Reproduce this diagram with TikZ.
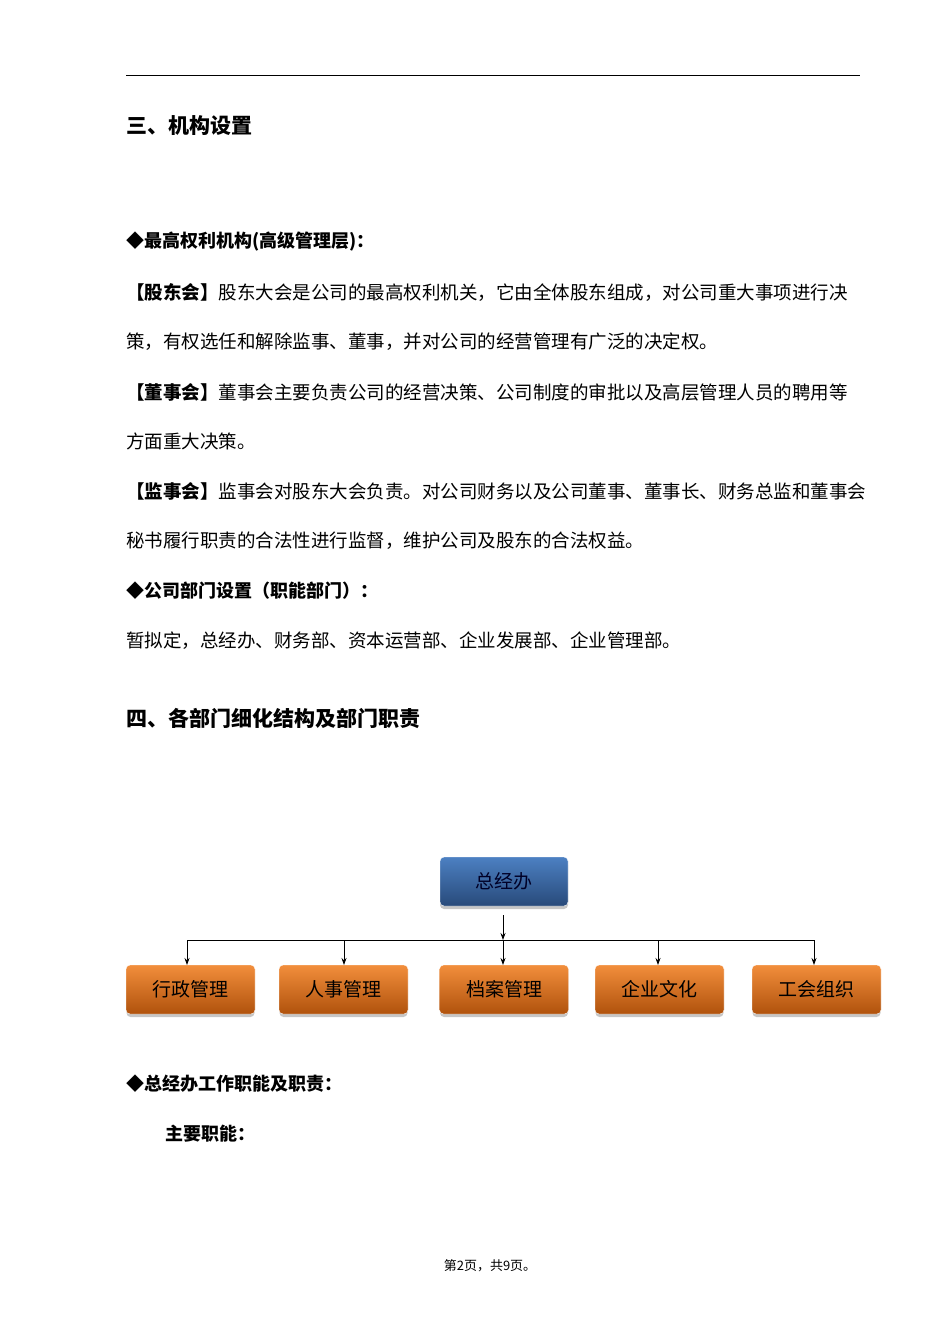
\documentclass[tikz,border=0pt]{standalone}
\usepackage{fontspec}
\usetikzlibrary{arrows.meta}
\setmainfont{Noto Sans CJK SC}
\begin{document}
\begin{tikzpicture}[x=1pt,y=-1pt,
  txt/.style={anchor=west,inner sep=0pt,font=\fontsize{18.5}{20}\selectfont},
  head/.style={anchor=west,inner sep=0pt,font=\fontsize{21}{23}\selectfont\bfseries},
  sub/.style={anchor=west,inner sep=0pt,font=\fontsize{18}{20}\selectfont\bfseries},
  blu/.style={rounded corners=4pt,minimum width=128pt,minimum height=49pt,draw=white,
    top color={rgb,255:red,76;green,128;blue,194},bottom color={rgb,255:red,40;green,74;blue,122},
    font=\fontsize{19}{21}\selectfont,text=black!85!blue},
  org/.style={rounded corners=4pt,minimum width=129pt,minimum height=49pt,draw=white,
    top color={rgb,255:red,242;green,142;blue,60},bottom color={rgb,255:red,176;green,82;blue,12},
    font=\fontsize{19}{21}\selectfont,text=black},
  shadow/.style={fill=gray!45,rounded corners=4pt},
  arr/.style={-{Stealth[length=7pt,width=5pt]},line width=0.8pt}]
\useasboundingbox (0,0) rectangle (950,1344);
\draw[line width=0.8pt] (126,75) -- (860,75);
\node[head] (h1) at (126,126) {三、机构设置};
\node[sub] (s1) at (126,242) {◆最高权利机构(高级管理层)：};
\node[txt] (p1) at (126,292) {\textbf{【股东会】}股东大会是公司的最高权利机关，它由全体股东组成，对公司重大事项进行决};
\node[txt] (p2) at (126,342) {策，有权选任和解除监事、董事，并对公司的经营管理有广泛的决定权。};
\node[txt] (p3) at (126,392) {\textbf{【董事会】}董事会主要负责公司的经营决策、公司制度的审批以及高层管理人员的聘用等};
\node[txt] (p4) at (126,441) {方面重大决策。};
\node[txt] (p5) at (126,491) {\textbf{【监事会】}监事会对股东大会负责。对公司财务以及公司董事、董事长、财务总监和董事会};
\node[txt] (p6) at (126,541) {秘书履行职责的合法性进行监督，维护公司及股东的合法权益。};
\node[sub] (s2) at (126,591) {◆公司部门设置（职能部门）：};
\node[txt] (p7) at (126,641) {暂拟定，总经办、财务部、资本运营部、企业发展部、企业管理部。};
\node[head] (h2) at (126,718) {四、各部门细化结构及部门职责};

\fill[shadow] (440,861) rectangle (568,909);
\node[blu] (top) at (504,881.5) {总经办};
\foreach \n/\x/\t in {a/190.5/行政管理,b/343.5/人事管理,c/504/档案管理,d/659.5/企业文化,e/816.5/工会组织}{
  \fill[shadow] (\x-64,970) rectangle (\x+64,1017);
  \node[org] (\n) at (\x,989.5) {\t};
}
\coordinate (j) at (503,940);
\coordinate (l) at (187,940);
\coordinate (r) at (814,940);
\coordinate (t) at (503,915);
\draw[line width=0.8pt] (l) -- (r);
\draw[arr] (t) -- (j);
\draw[arr] (l) -- (187,965);
\draw[arr] (344,940) -- (344,965);
\draw[arr] (j) -- (503,965);
\draw[arr] (658,940) -- (658,965);
\draw[arr] (r) -- (814,965);

\node[sub] (s3) at (126,1084) {◆总经办工作职能及职责：};
\node[sub] (s4) at (165,1134) {主要职能：};
\node[font=\fontsize{13}{15}\selectfont,inner sep=0pt] (f) at (490,1266) {第2页，共9页。};
\end{tikzpicture}
\end{document}
